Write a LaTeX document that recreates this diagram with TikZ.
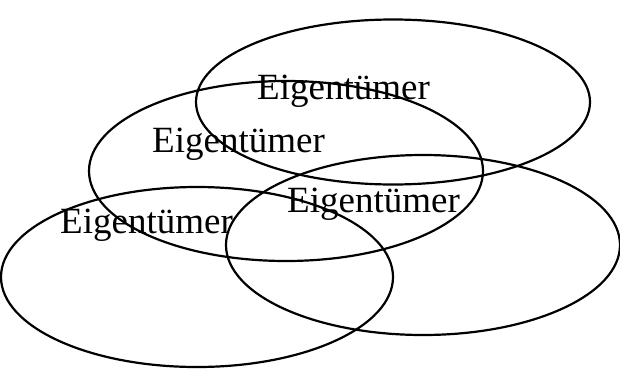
\documentclass[tikz,border=0pt]{standalone}
\usepackage{fontspec}
\setmainfont{Liberation Serif}
\usetikzlibrary{shapes.geometric}

\begin{document}
\begin{tikzpicture}[
        x=1pt, y=-1pt,
        ring/.style={draw, ellipse, line width=2.2pt, inner sep=0pt},
        owner/.style={anchor=base west, inner sep=0pt, font=\fontsize{37}{40}\selectfont}
    ]
        \useasboundingbox (0,0) rectangle (620,372);

        % Labels
        \node[owner] (toplabel) at (257,99) {Eigentümer};
        \node[owner] (middlelabel) at (152,152) {Eigentümer};
        \node[owner] (leftlabel) at (60,233) {Eigentümer};
        \node[owner] (rightlabel) at (287,212) {Eigentümer};

        % Ellipses
        \node[ring, minimum width=394pt, minimum height=165pt] (top) at (393,102) {};
        \node[ring, minimum width=394pt, minimum height=180pt] (middle) at (286,171) {};
        \node[ring, minimum width=392pt, minimum height=180pt] (left) at (197,277) {};
        \node[ring, minimum width=394pt, minimum height=180pt] (right) at (423,245) {};
    \end{tikzpicture}
\end{document}
